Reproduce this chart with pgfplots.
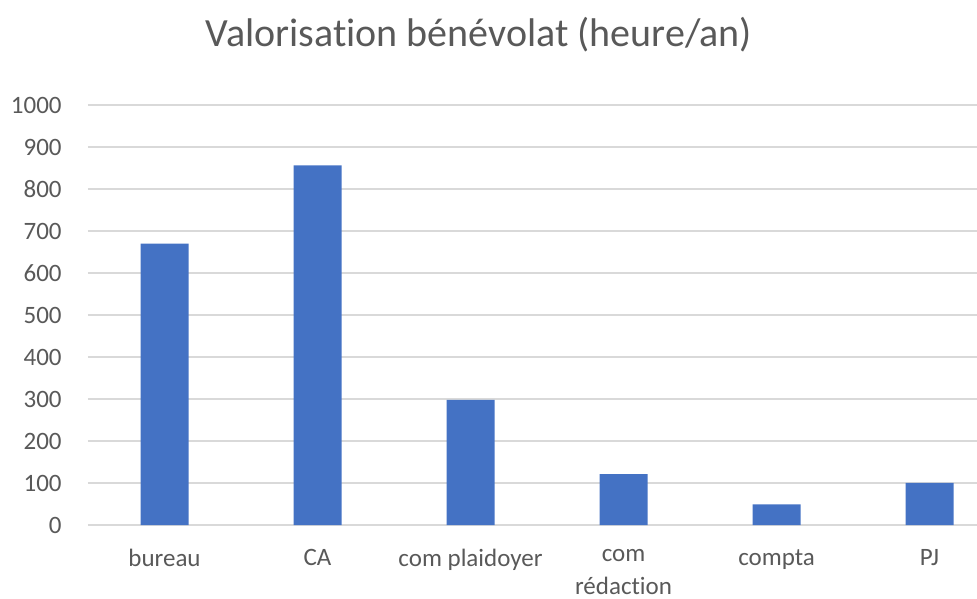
\documentclass[border=0pt]{standalone}
\usepackage{pgfplots}
\pgfplotsset{compat=1.18}
\usepackage{fontspec}
\setmainfont{Carlito}[Ligatures={NoCommon}]
\definecolor{barblue}{HTML}{4472C4}
\definecolor{gridgray}{HTML}{D9D9D9}
\definecolor{textgray}{HTML}{595959}
\begin{document}
\begin{tikzpicture}
\begin{axis}[
  scale only axis,
  width=444.5pt, height=210pt,
  xmin=-0.5, xmax=5.31,
  ymin=0, ymax=1000,
  ytick={0,100,...,1000},
  xtick={0,1,2,3,4,5},
  xticklabels={bureau, CA, com plaidoyer, {com\\rédaction}, compta, PJ},
  axis line style={draw=none},
  major tick length=0pt,
  ymajorgrids,
  grid style={gridgray, line width=0.8pt},
  tick label style={font=\fontsize{12.5}{16.5}\selectfont, text=textgray},
  yticklabel style={anchor=east, inner sep=0pt, xshift=-13pt, /pgf/number format/1000 sep={}},
  xticklabel style={anchor=north, align=center, inner sep=0pt, yshift=-12pt},
  /pgf/number format/assume math mode=true,
  clip=false,
]
\addplot[ybar, bar width=24pt, fill=barblue, draw=none] coordinates {
  (0,670) (1,856) (2,298) (3,121) (4,49) (5,100)
};
\end{axis}
\node[text=textgray, font=\fontsize{20}{24}\selectfont] at (195.5pt,245pt) {Valorisation bénévolat (heure/an)};
\pgfresetboundingbox
\path (-44pt,-36.5pt) rectangle (444.5pt,262.5pt);
\end{tikzpicture}
\end{document}
